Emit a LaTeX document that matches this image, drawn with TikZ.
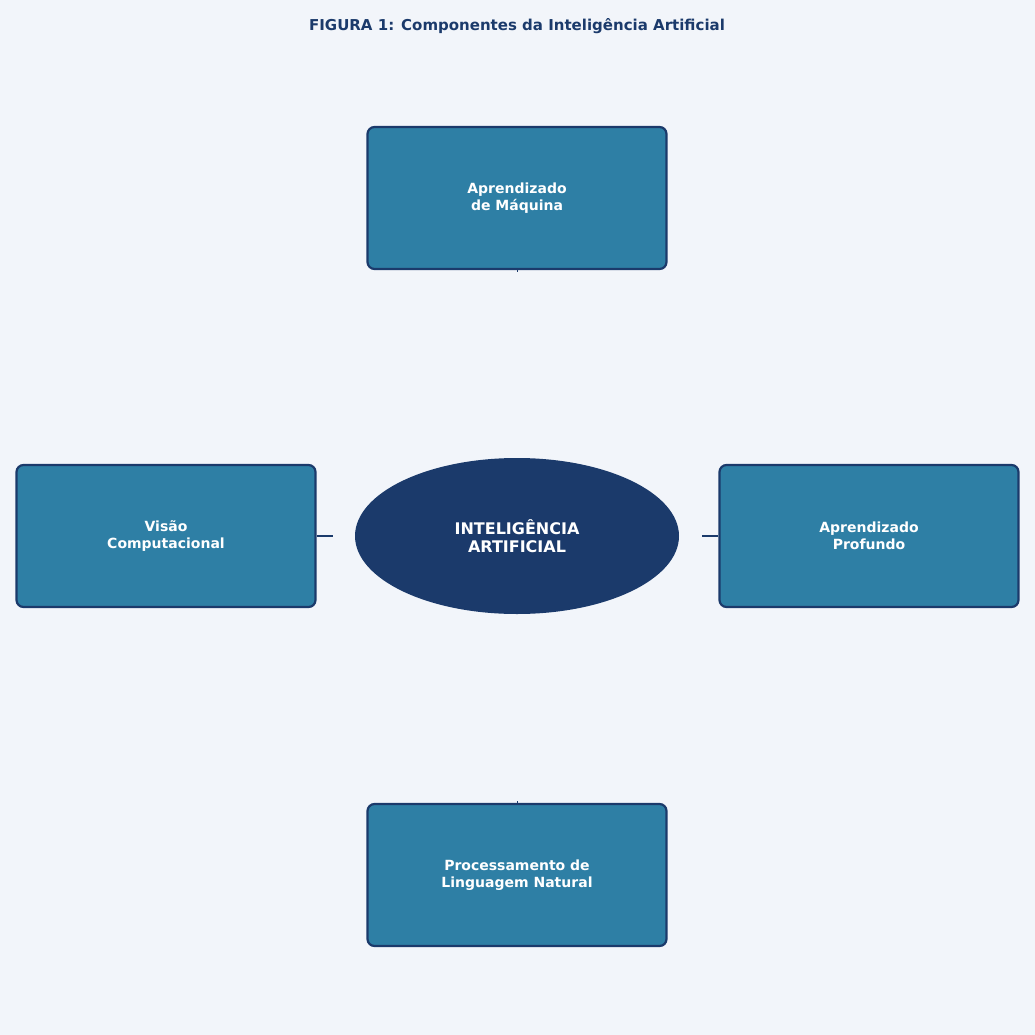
\documentclass[tikz,border=0pt]{standalone}
\usepackage{fontspec}
\setmainfont{DejaVu Sans}
\usetikzlibrary{positioning,shapes.geometric}
\definecolor{navy}{HTML}{1B3A6B}
\definecolor{teal}{HTML}{2E7FA5}
\definecolor{bg}{HTML}{F2F5FA}
\tikzset{every picture/.style={line width=0.75pt}}
\tikzset{
  comp/.style={draw=navy, fill=teal, line width=2.2pt, rounded corners=7pt,
    minimum width=299pt, minimum height=142pt, align=center, text=white,
    font=\fontsize{14}{16.5}\selectfont\bfseries},
  core/.style={ellipse, fill=navy, minimum width=324pt, minimum height=156pt,
    align=center, text=white, font=\fontsize{16}{18}\selectfont\bfseries},
  stub/.style={draw=navy, line width=2.2pt}
}
\begin{document}
\begin{tikzpicture}[x=1pt,y=1pt,yscale=-1]
\fill[bg] (0,0) rectangle (1035,1035);
\useasboundingbox (0,0) rectangle (1035,1035);

% title
\node (title) [text=navy, font=\fontsize{15}{18}\selectfont\bfseries] at (517,26) {FIGURA 1: Componentes da Inteligência Artificial};

% centre
\node (ia) [core] at (517,536) {INTELIGÊNCIA\\ARTIFICIAL};

% components
\node (am) [comp] at (517,198) {Aprendizado\\de Máquina};
\node (vc) [comp] at (166,536) {Visão\\Computacional};
\node (ap) [comp] at (869,536) {Aprendizado\\Profundo};
\node (pln) [comp] at (517,875) {Processamento de\\Linguagem Natural};

% connectors
\coordinate (vcx) at ([xshift=16pt]vc.east);
\coordinate (apx) at ([xshift=-16pt]ap.west);
\draw [stub] (vc.east) -- (vcx);
\draw [stub] (ap.west) -- (apx);
\draw [stub, line width=1pt] (am.south) -- ++(0,2);
\draw [stub, line width=1pt] (pln.north) -- ++(0,-2);
\end{tikzpicture}
\end{document}
